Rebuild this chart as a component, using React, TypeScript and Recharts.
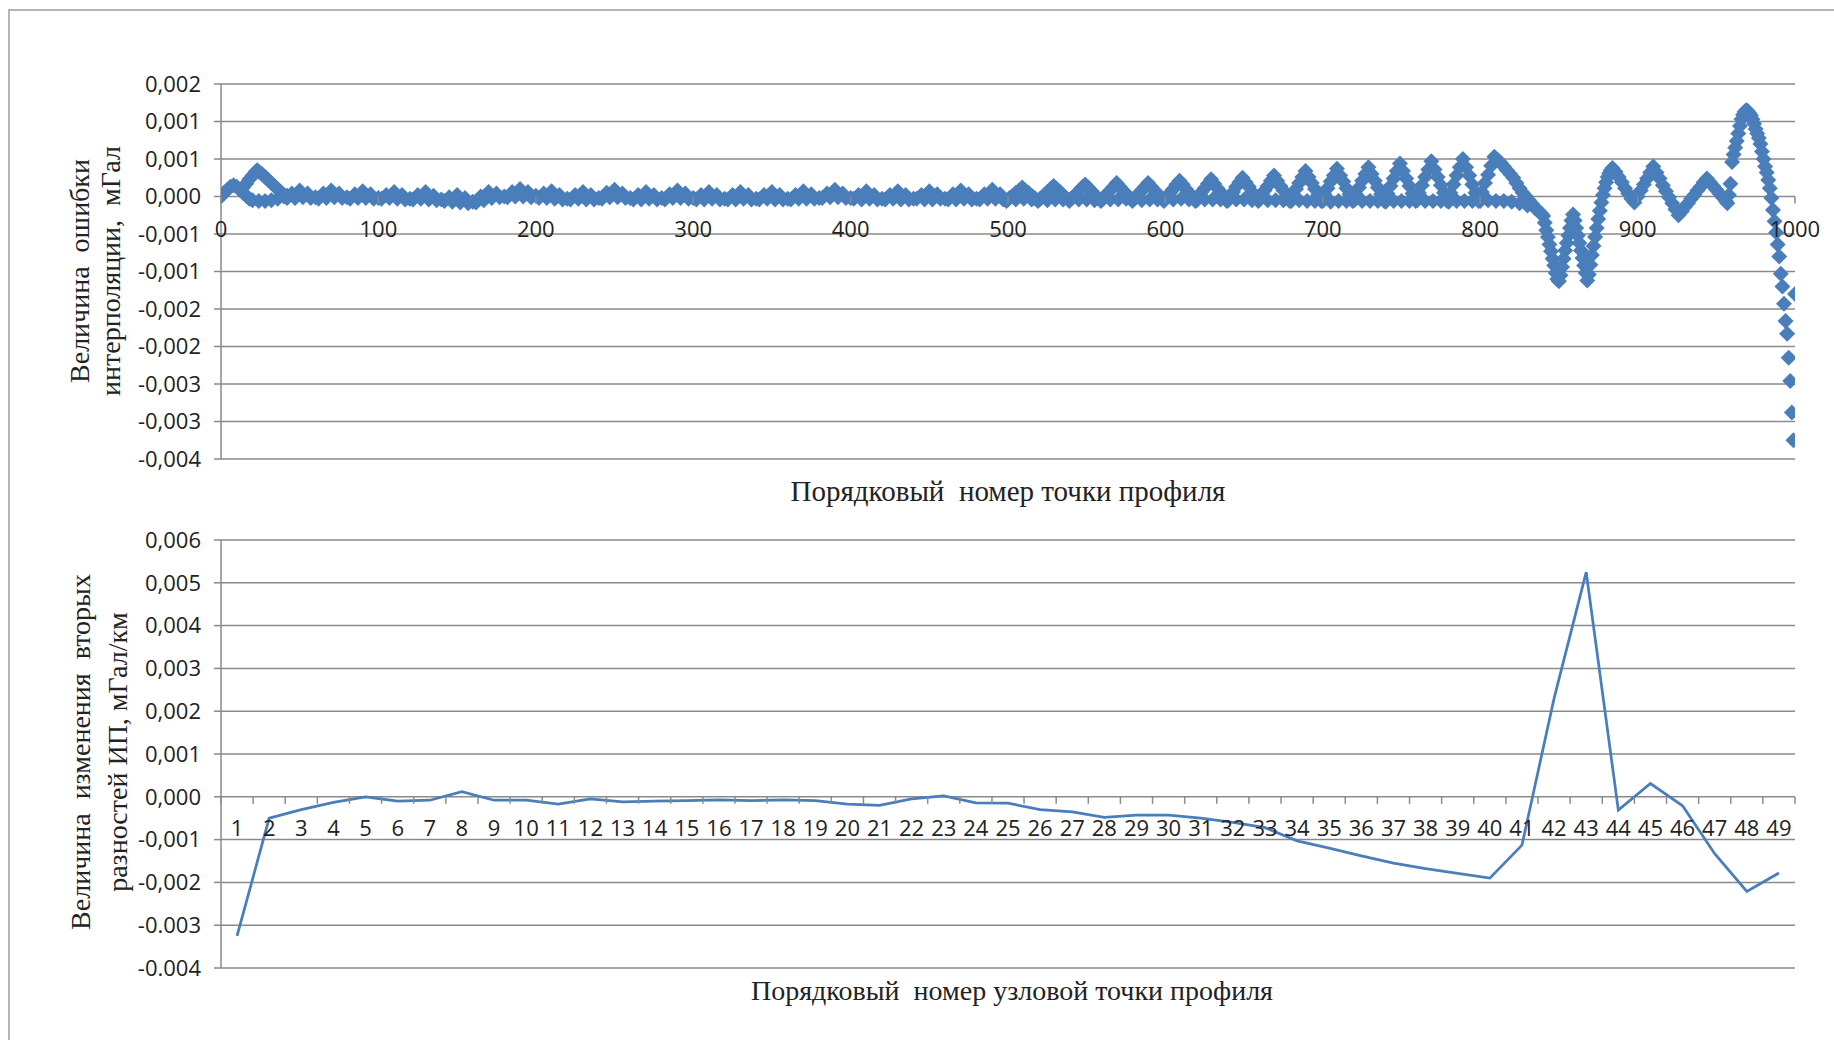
import React from "react";
import {
  ScatterChart,
  Scatter,
  LineChart,
  Line,
  XAxis,
  YAxis,
  CartesianGrid,
} from "recharts";

// ---- top chart: interpolation error along the profile ----
// values are in units of 1e-4 mGal

// profile start, two overlapping runs of points [index, value]
const errHead = [
  [0, 0.0], [2, 0.5], [4, 0.9], [6, 1.3], [8, 1.5], [10, 1.3], [12, 0.9], [14, 0.5],
  [16, 0.1], [18, -0.3], [20, -0.5], [24, -0.6], [28, -0.6], [32, -0.5], [36, -0.3], [40, 0.0],
  [14, 1.2], [16, 1.7], [18, 2.3], [20, 2.8], [22, 3.3], [23, 3.5], [24, 3.3], [26, 3.0],
  [28, 2.6], [30, 2.2], [32, 1.8], [34, 1.4], [36, 1.0], [38, 0.6], [40, 0.2], [42, 0.1],
];

// upper run, from index 45, every 5th point
const errFlat = [
  0.4, 0.8, 0.4, -0.1, 0.4, 0.8, 0.4, -0.1, 0.3, 0.7,
  0.3, -0.2, 0.2, 0.6, 0.2, -0.3, 0.2, 0.6, 0.1, -0.4,
  -0.1, 0.2, -0.2, -0.7, 0.0, 0.6, 0.4, 0.0, 0.6, 1.0,
  0.6, 0.1, 0.4, 0.7, 0.2, -0.3, 0.2, 0.6, 0.2, -0.2,
  0.5, 0.9, 0.4, -0.2, 0.2, 0.6, 0.2, -0.2, 0.3, 0.8,
  0.4, -0.2, 0.2, 0.6, 0.2, -0.3, 0.2, 0.6, 0.2, -0.3,
  0.2, 0.6, 0.2, -0.3, 0.2, 0.7, 0.3, -0.2, 0.4, 0.9,
  0.4, -0.2, 0.2, 0.7, 0.2, -0.3, 0.2, 0.7, 0.2, -0.3,
  0.2, 0.7, 0.3, -0.3, 0.3, 0.8, 0.3, -0.3, 0.3, 0.9,
  0.3,
];

// lower run, from index 42, every 5th point
const errFlatLow = [
  -0.2, -0.2, -0.1, -0.2, -0.3, -0.2, -0.1, -0.2, -0.3, -0.2,
  -0.2, -0.3, -0.3, -0.2, -0.3, -0.4, -0.4, -0.3, -0.4, -0.5,
  -0.6, -0.7, -0.8, -0.9, -0.8, -0.5, -0.2, -0.1, -0.1, 0.0,
  0.0, -0.1, -0.2, -0.2, -0.3, -0.4, -0.4, -0.3, -0.4, -0.4,
  -0.3, -0.1, -0.1, -0.2, -0.4, -0.4, -0.3, -0.4, -0.4, -0.2,
  -0.2, -0.3, -0.4, -0.4, -0.3, -0.4, -0.4, -0.4, -0.3, -0.4,
  -0.4, -0.3, -0.4, -0.4, -0.4, -0.3, -0.3, -0.3, -0.2, -0.1,
  -0.1, -0.2, -0.3, -0.4, -0.3, -0.4, -0.4, -0.3, -0.4, -0.4,
  -0.3, -0.4, -0.4, -0.3, -0.4, -0.4, -0.3, -0.4, -0.4, -0.3,
  -0.3, -0.4,
];

// from index 499, every 2nd point (growing zigzag)
const errRise = [
  -0.6, -0.2, 0.1, 0.5, 0.8, 1.2, 0.8, 0.5, 0.1, -0.2,
  -0.6, -0.2, 0.2, 0.6, 1.0, 1.4, 1.0, 0.6, 0.2, -0.2,
  -0.6, -0.2, 0.3, 0.7, 1.2, 1.6, 1.2, 0.7, 0.3, -0.2,
  -0.6, -0.1, 0.4, 0.8, 1.3, 1.8, 1.3, 0.8, 0.4, -0.1,
  -0.6, -0.1, 0.4, 0.8, 1.3, 1.8, 1.3, 0.8, 0.4, -0.1,
  -0.6, -0.1, 0.5, 1.0, 1.6, 2.1, 1.6, 1.0, 0.5, -0.1,
  -0.6, 0.0, 0.6, 1.1, 1.7, 2.3, 1.7, 1.1, 0.6, 0.0,
  -0.6, 0.0, 0.6, 1.3, 1.9, 2.5, 1.9, 1.3, 0.6, 0.0,
  -0.6, 0.1, 0.8, 1.4, 2.1, 2.8, 2.1, 1.4, 0.8, 0.1,
  -0.6, 0.2, 1.0, 1.8, 2.6, 3.4, 2.6, 1.8, 1.0, 0.2,
  -0.6, 0.3, 1.1, 2.0, 2.8, 3.7, 2.8, 2.0, 1.1, 0.3,
  -0.6, 0.3, 1.2, 2.1, 3.0, 3.9, 3.0, 2.1, 1.2, 0.3,
  -0.6, 0.4, 1.4, 2.4, 3.4, 4.4, 3.4, 2.4, 1.4, 0.4,
  -0.6, 0.5, 1.5, 2.6, 3.6, 4.7, 3.6, 2.6, 1.5, 0.5,
  -0.6, 0.5, 1.6, 2.8, 3.9, 5.0, 3.9, 2.8, 1.6, 0.5,
  -0.6, 0.6, 1.8, 2.9, 4.1,
  5.3, 4.9, 4.5, 4.0, 3.5, 3.0, 2.5, 1.8, 1.1, 0.5, 0.0, -0.5, -1.0, -1.5, -1.9, -2.3,
];

// lower run under the bumps, from index 500, every 5th point
const errBase = [
  -0.4, -0.4, -0.3, -0.4, -0.4, -0.5, -0.4, -0.4, -0.3, -0.4,
  -0.4, -0.5, -0.4, -0.4, -0.4, -0.3, -0.4, -0.5, -0.4, -0.4,
  -0.4, -0.4, -0.3, -0.4, -0.5, -0.4, -0.4, -0.4, -0.5, -0.4,
  -0.4, -0.5, -0.4, -0.5, -0.5, -0.5,
  -0.6, -0.5, -0.6, -0.6, -0.6, -0.7, -0.6, -0.6, -0.5, -0.6,
  -0.6, -0.6, -0.7, -0.6, -0.6, -0.6, -0.5, -0.6, -0.6, -0.6,
  -0.7, -0.6, -0.6, -0.6, -0.6, -0.5, -0.6, -0.6,
  -0.7, -0.9, -1.2, -1.6,
];

// the W dip, from index 840, every point
const errW = [
  -2.6, -3.5, -4.5, -5.4, -6.4, -7.3, -8.3, -9.2, -10.2, -11.0,
  -11.3, -10.5, -9.4, -8.3, -7.2, -6.2, -5.2, -4.2, -3.2, -2.4,
  -3.2, -4.2, -5.2, -6.2, -7.2, -8.2, -9.2, -10.2, -11.2, -10.4,
  -9.1, -7.8, -6.6, -5.4, -4.2, -3.0, -1.9, -0.8, 0.2, 1.1,
  1.9, 2.6, 3.1, 3.5, 3.8,
];

// from index 886, every 2nd point
const errWave = [
  3.3, 2.6, 1.9, 1.1, 0.4, -0.3, -0.8,
  0.0, 0.8, 1.6, 2.4, 3.2, 4.0,
  3.2, 2.4, 1.5, 0.7, -0.1, -0.9, -1.7, -2.5,
  -2.0, -1.4, -0.9, -0.3, 0.2, 0.8, 1.3, 1.9, 2.4,
  1.9, 1.4, 0.9, 0.4, -0.1, -0.6,
];

// from index 957 to 1000, every point
const errTail = [
  -0.9, 0.2, 1.7, 4.6, 5.6, 6.5, 7.4, 8.4, 9.4, 10.3, 10.9, 11.3, 11.5,
  11.4, 11.1, 10.8, 10.3, 9.7, 9.0, 8.4, 7.8, 7.0, 6.0,
  5.0, 4.0, 3.2, 2.2, 1.1, -0.2, -1.8, -3.3, -4.8, -6.4,
  -8.0, -10.3, -12.0, -14.3, -16.6, -18.3, -21.5, -24.6, -28.8, -32.5,
  -13.0,
];

const topXTicks = [0, 100, 200, 300, 400, 500, 600, 700, 800, 900, 1000];
const topYTicks = [-0.0035, -0.003, -0.0025, -0.002, -0.0015, -0.001, -0.0005, 0, 0.0005, 0.001, 0.0015];
const topYLabels = ["-0,004", "-0,003", "-0,003", "-0,002", "-0,002", "-0,001", "-0,001", "0,000", "0,001", "0,001", "0,002"];

// ---- bottom chart: change of second differences at node points ----
const nodeNums = [
  "1", "2", "3", "4", "5", "6", "7", "8", "9", "10", "11", "12", "13", "14", "15", "16", "17",
  "18", "19", "20", "21", "22", "23", "24", "25", "26", "27", "28", "29", "30", "31", "32", "33",
  "34", "35", "36", "37", "38", "39", "40", "41", "42", "43", "44", "45", "46", "47", "48", "49",
];
const nodeDiff = [
  -0.00325, -0.0005, -0.0003, -0.00013, 0.0, -0.0001, -0.00008, 0.00012, -0.00008, -0.00008,
  -0.00017, -0.00005, -0.00012, -0.0001, -0.00009, -0.00007, -0.00009, -0.00007, -0.00009, -0.00017,
  -0.0002, -0.00005, 0.00002, -0.00014, -0.00015, -0.0003, -0.00035, -0.00048, -0.00043, -0.00043,
  -0.0005, -0.0006, -0.00072, -0.00103, -0.0012, -0.00138, -0.00155, -0.00168, -0.00179, -0.0019,
  -0.00113, 0.0023, 0.00525, -0.00031, 0.00031, -0.00021, -0.00133, -0.00221, -0.00178,
];
const botYTicks = [-0.004, -0.003, -0.002, -0.001, 0, 0.001, 0.002, 0.003, 0.004, 0.005, 0.006];
const botYLabels = ["-0.004", "-0.003", "-0,002", "-0,001", "0,000", "0,001", "0,002", "0,003", "0,004", "0,005", "0,006"];

// ---- layout ----
const W = 1834;
const H = 520;
const PLOT_L = 221;
const PLOT_R = 1795;
const Y_AXIS_W = 100;
const TOP_T = 84;
const TOP_B = 459;
const BOT_T = 20; // inside the lower chart
const BOT_B = 448;

const GRID = "#8a8a8a";
const BLUE = "#4a7ebb";
const TICK_FONT = { fill: "#222", fontSize: 22, fontFamily: "'Open Sans', sans-serif" };

const toPts = (start: number, step: number, vals: number[]) =>
  vals.map((v, i) => ({ x: start + i * step, y: v / 1e4 }));

const errPoints = [
  ...errHead.map(([x, v]) => ({ x, y: v / 1e4 })),
  ...toPts(42, 5, errFlatLow),
  ...toPts(45, 5, errFlat),
  ...toPts(500, 5, errBase),
  ...toPts(499, 2, errRise),
  ...toPts(840, 1, errW),
  ...toPts(886, 2, errWave),
  ...toPts(957, 1, errTail),
];

const nodeTable = nodeNums.map((n, i) => ({ node: n, d: nodeDiff[i] }));

const TOP_ZERO = TOP_T + (0.0015 / 0.005) * (TOP_B - TOP_T);
const BOT_ZERO = BOT_T + (0.006 / 0.01) * (BOT_B - BOT_T);
const BAND = (PLOT_R - PLOT_L) / nodeNums.length;

const labelOf = (ticks: number[], labels: string[]) => (v: number) => {
  const i = ticks.findIndex((t) => Math.abs(t - v) < 1e-9);
  return i >= 0 ? labels[i] : "";
};

const Diamond = (p: any) => {
  const r = 8;
  return (
    <path
      d={`M${p.cx} ${p.cy - r}L${p.cx + r} ${p.cy}L${p.cx} ${p.cy + r}L${p.cx - r} ${p.cy}Z`}
      fill={BLUE}
    />
  );
};

const TopXTick = (props: any) => {
  const { x, payload } = props;
  return (
    <g>
      <line x1={x} x2={x} y1={TOP_ZERO} y2={TOP_ZERO + 7} stroke={GRID} strokeWidth={1.5} />
      <text x={x} y={TOP_ZERO + 31} textAnchor="middle" dominantBaseline="central" {...TICK_FONT}>
        {payload.value}
      </text>
    </g>
  );
};

const BotXTick = (props: any) => {
  const { x, payload, index } = props;
  return (
    <g>
      <line x1={x - BAND / 2} x2={x - BAND / 2} y1={BOT_ZERO} y2={BOT_ZERO + 7} stroke={GRID} strokeWidth={1.5} />
      {index === nodeNums.length - 1 && (
        <line x1={x + BAND / 2} x2={x + BAND / 2} y1={BOT_ZERO} y2={BOT_ZERO + 7} stroke={GRID} strokeWidth={1.5} />
      )}
      <text x={x} y={BOT_ZERO + 30} textAnchor="middle" dominantBaseline="central" {...TICK_FONT}>
        {payload.value}
      </text>
    </g>
  );
};

const serif = "'Liberation Serif', 'Times New Roman', serif";

const VTitle = ({ x, y, gap, text }: { x: number; y: number; gap: number; text: string }) => (
  <div
    style={{
      position: "absolute",
      left: x,
      top: y,
      transform: "translate(-50%, -50%) rotate(-90deg)",
      whiteSpace: "pre",
      textAlign: "center",
      fontFamily: serif,
      fontSize: 28,
      lineHeight: `${gap}px`,
      color: "#222",
    }}
  >
    {text}
  </div>
);

const HTitle = ({ x, y, size, text }: { x: number; y: number; size: number; text: string }) => (
  <div
    style={{
      position: "absolute",
      left: x,
      top: y,
      transform: "translate(-50%, -50%)",
      whiteSpace: "pre",
      fontFamily: serif,
      fontSize: size,
      color: "#222",
    }}
  >
    {text}
  </div>
);

export default function App() {
  return (
    <div style={{ position: "relative", width: W, height: 1040, background: "#fff", overflow: "hidden" }}>
      <style>{`body{margin:0}`}</style>
      <div
        style={{
          position: "absolute",
          left: 8,
          top: 9,
          width: W,
          height: 1040,
          borderLeft: "2px solid #b4b4b4",
          borderTop: "2px solid #b4b4b4",
        }}
      />

      <div style={{ position: "absolute", left: 0, top: 0 }}>
        <ScatterChart
          width={W}
          height={H}
          margin={{ top: TOP_T, right: W - PLOT_R, bottom: H - TOP_B - 1, left: PLOT_L - Y_AXIS_W }}
        >
          <CartesianGrid vertical={false} stroke={GRID} strokeWidth={1.5} />
          <XAxis
            type="number"
            dataKey="x"
            domain={[0, 1000]}
            ticks={topXTicks}
            interval={0}
            height={1}
            axisLine={false}
            tickLine={false}
            tick={TopXTick}
            allowDataOverflow
          />
          <YAxis
            type="number"
            dataKey="y"
            domain={[-0.0035, 0.0015]}
            ticks={topYTicks}
            interval={0}
            width={Y_AXIS_W}
            tickSize={7}
            tickMargin={13}
            axisLine={{ stroke: GRID, strokeWidth: 1.5 }}
            tickLine={{ stroke: GRID, strokeWidth: 1.5 }}
            tick={TICK_FONT}
            tickFormatter={labelOf(topYTicks, topYLabels)}
            allowDataOverflow
          />
          <Scatter data={errPoints} fill={BLUE} shape={Diamond} isAnimationActive={false} />
        </ScatterChart>
      </div>

      <div style={{ position: "absolute", left: 0, top: 520 }}>
        <LineChart
          width={W}
          height={H}
          data={nodeTable}
          margin={{ top: BOT_T, right: W - PLOT_R, bottom: H - BOT_B - 1, left: PLOT_L - Y_AXIS_W }}
        >
          <CartesianGrid vertical={false} stroke={GRID} strokeWidth={1.5} />
          <XAxis
            dataKey="node"
            interval={0}
            height={1}
            axisLine={false}
            tickLine={false}
            padding={{ left: BAND / 2, right: BAND / 2 }}
            tick={BotXTick}
          />
          <YAxis
            type="number"
            domain={[-0.004, 0.006]}
            ticks={botYTicks}
            interval={0}
            width={Y_AXIS_W}
            tickSize={7}
            tickMargin={13}
            axisLine={{ stroke: GRID, strokeWidth: 1.5 }}
            tickLine={{ stroke: GRID, strokeWidth: 1.5 }}
            tick={TICK_FONT}
            tickFormatter={labelOf(botYTicks, botYLabels)}
            allowDataOverflow
          />
          <Line
            type="linear"
            dataKey="d"
            stroke={BLUE}
            strokeWidth={2.75}
            dot={false}
            isAnimationActive={false}
          />
        </LineChart>
      </div>

      <VTitle x={95} y={271} gap={31} text={"Величина  ошибки\nинтерполяции,  мГал"} />
      <VTitle x={99} y={752} gap={37} text={"Величина  изменения  вторых\nразностей ИП, мГал/км"} />
      <HTitle x={1008} y={491} size={29} text={"Порядковый  номер точки профиля"} />
      <HTitle x={1012} y={991} size={28} text={"Порядковый  номер узловой точки профиля"} />
    </div>
  );
}
